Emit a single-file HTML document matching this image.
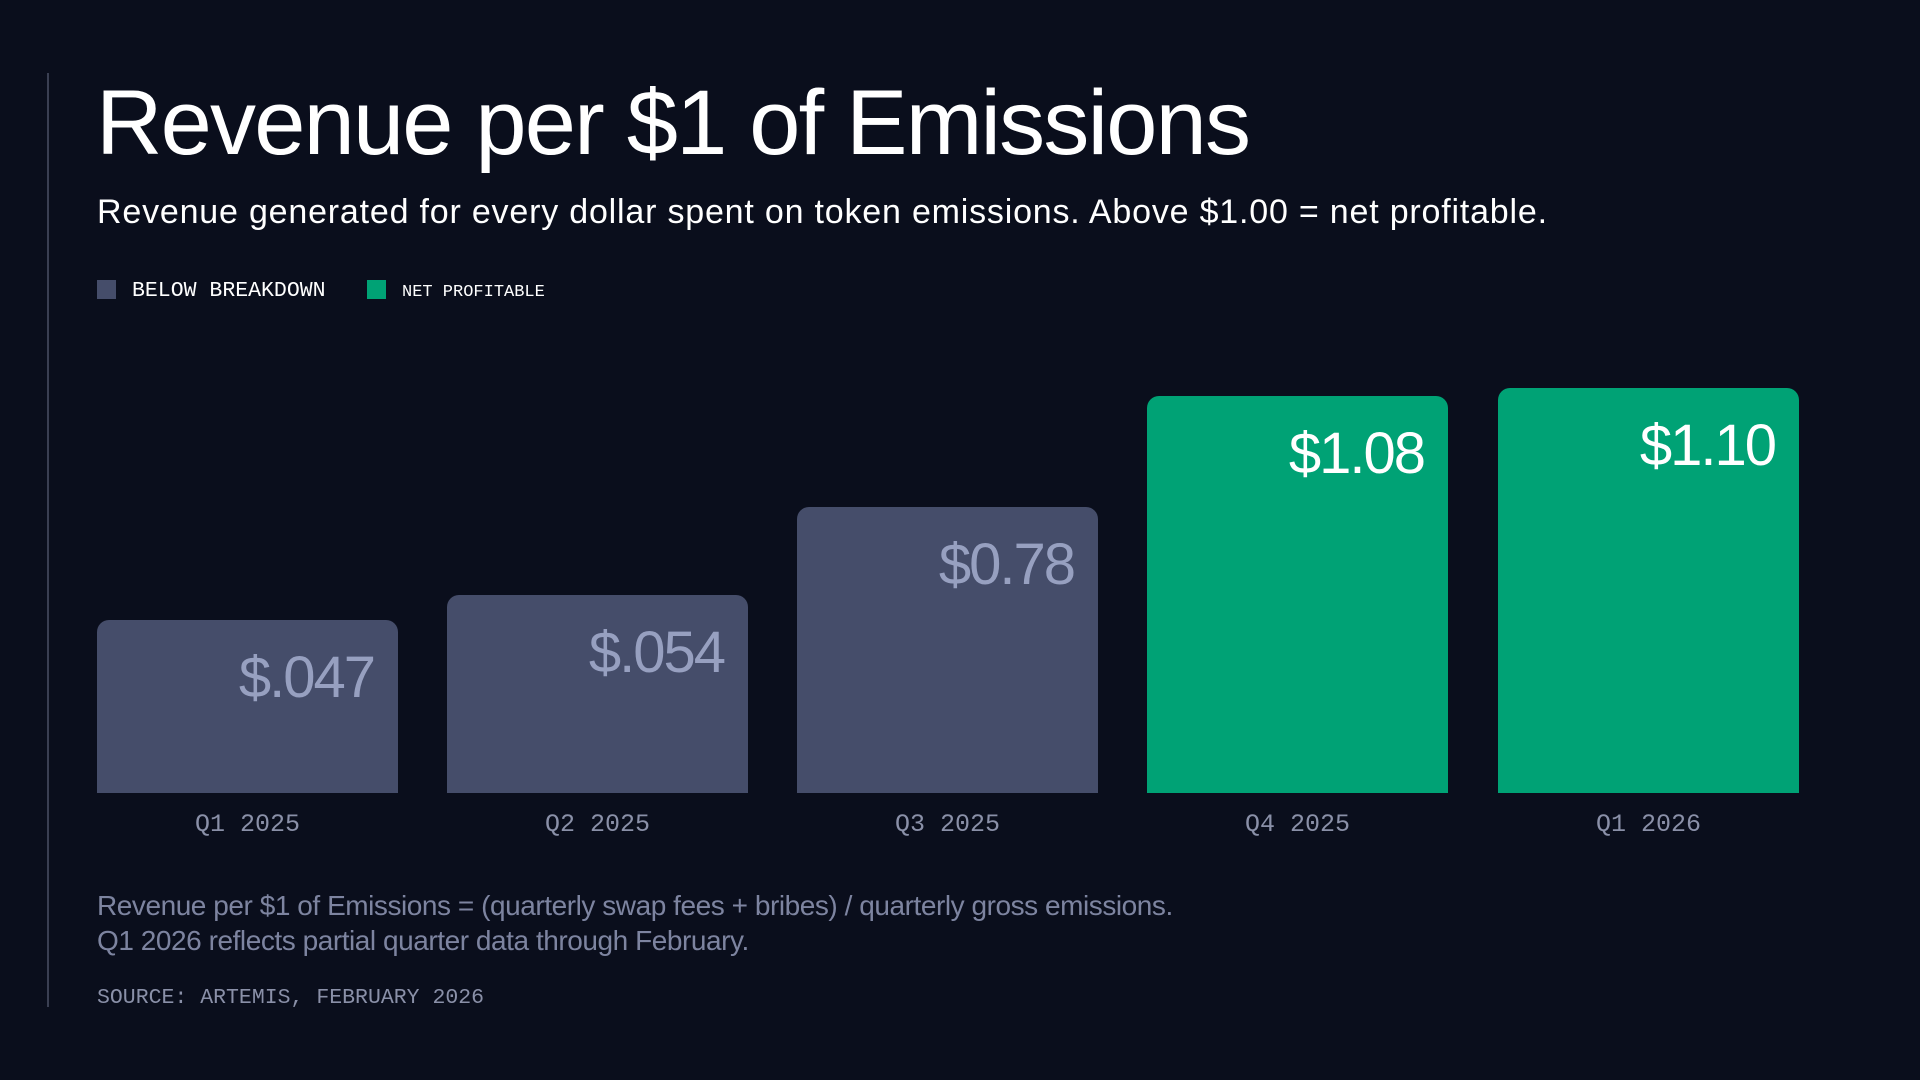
<!DOCTYPE html>
<html><head><meta charset="utf-8"><style>
body{margin:0;width:1920px;height:1080px;background:#0a0e1c;position:relative;overflow:hidden;font-family:"Liberation Sans",sans-serif}
.a{position:absolute;line-height:1;white-space:nowrap}
.m{font-family:"Liberation Mono",monospace}
.bar{position:absolute;bottom:287px;width:301px;border-radius:12px 12px 0 0}
.g{background:#454d6a}.p{background:#00a275}
.v{position:absolute;right:24px;top:29px;font-size:58px;line-height:1;letter-spacing:-2px}
.x{position:absolute;top:810px;width:301px;text-align:center;font-size:25px;color:#8a90a8}
</style></head><body>
<div style="position:absolute;left:47px;top:73px;width:2px;height:934px;background:#3a3f52"></div>
<div class="a" style="left:96px;top:77px;font-size:92px;color:#fff;letter-spacing:-1.8px">Revenue per $1 of Emissions</div>
<div class="a" style="left:97px;top:195px;font-size:34px;color:#fff;letter-spacing:0.8px">Revenue generated for every dollar spent on token emissions. Above $1.00 = net profitable.</div>
<div style="position:absolute;left:97px;top:280px;width:19px;height:19px;background:#454d6a"></div>
<div class="a m" style="left:132px;top:281px;font-size:21.5px;color:#fff">BELOW BREAKDOWN</div>
<div style="position:absolute;left:367px;top:280px;width:19px;height:19px;background:#00a275"></div>
<div class="a m" style="left:402px;top:284px;font-size:17px;color:#fff">NET PROFITABLE</div>

<div class="bar g" style="left:97px;height:173px"><div class="v" style="color:#97a0c0">$.047</div></div>
<div class="bar g" style="left:447px;height:198px"><div class="v" style="color:#97a0c0">$.054</div></div>
<div class="bar g" style="left:797px;height:286px"><div class="v" style="color:#97a0c0">$0.78</div></div>
<div class="bar p" style="left:1147px;height:397px"><div class="v" style="color:#fff">$1.08</div></div>
<div class="bar p" style="left:1498px;height:405px"><div class="v" style="color:#fff">$1.10</div></div>

<div class="x m" style="left:97px">Q1 2025</div>
<div class="x m" style="left:447px">Q2 2025</div>
<div class="x m" style="left:797px">Q3 2025</div>
<div class="x m" style="left:1147px">Q4 2025</div>
<div class="x m" style="left:1498px">Q1 2026</div>

<div class="a" style="left:97px;top:888px;font-size:28px;line-height:35px;color:#7d84a0;letter-spacing:-0.45px">Revenue per $1 of Emissions = (quarterly swap fees + bribes) / quarterly gross emissions.<br>Q1 2026 reflects partial quarter data through February.</div>
<div class="a m" style="left:97px;top:988px;font-size:21.5px;color:#8a90a8">SOURCE: ARTEMIS, FEBRUARY 2026</div>
</body></html>
